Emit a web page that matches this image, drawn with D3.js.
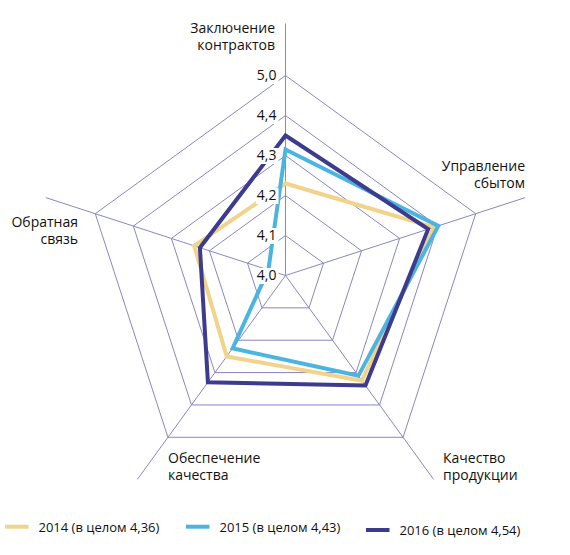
<!DOCTYPE html>
<html><head><meta charset="utf-8">
<script src="https://cdn.jsdelivr.net/npm/d3@7/dist/d3.min.js"></script>
<style>
html,body{margin:0;padding:0;background:#fff;}
text{font-family:"Open Sans",sans-serif;fill:#111;}
</style></head>
<body>
<svg id="chart" width="570" height="555"></svg>
<script>
const axes = [["Заключение","контрактов"],["Управление","сбытом"],["Качество","продукции"],["Обеспечение","качества"],["Обратная","связь"]];
const tickValues = [4.0, 4.1, 4.2, 4.3, 4.4, 5.0];
const tickLabels = ["4,0","4,1","4,2","4,3","4,4","5,0"];
const seriesNames = ["2014 (в целом 4,36)","2015 (в целом 4,43)","2016 (в целом 4,54)"];
const values2014 = [4.23, 4.39, 4.325, 4.25, 4.24];
const values2015 = [4.315, 4.41, 4.31, 4.225, 4.045];
const values2016 = [4.35, 4.375, 4.34, 4.33, 4.225];
const colors = ["#f2d38c","#4cb4e0","#3d3b8e"];

const series = [values2014, values2015, values2016];
const svg = d3.select("#chart");
const cx = 285.5, cy = 275.5;
const r = d3.scaleLinear().domain(tickValues).range([0,40,80,120,160,200]);
const angle = d3.scalePoint().domain(d3.range(axes.length + 1)).range([0, 2*Math.PI]);
const pt = (i, rad) => [cx + rad*Math.sin(angle(i % axes.length)), cy - rad*Math.cos(angle(i % axes.length))];
const gridColor = "#8a86c2";

const g = svg.append("g");
// rings
tickValues.slice(1).forEach(v => {
  const pts = d3.range(axes.length).map(i => pt(i, r(v)));
  g.append("polygon").attr("points", pts.map(p => p.join(",")).join(" "))
    .attr("fill","none").attr("stroke",gridColor).attr("stroke-width",1);
});
// axes
const axisLen = 252;
axes.forEach((a,i) => {
  const p = pt(i, axisLen);
  g.append("line").attr("x1",cx).attr("y1",cy).attr("x2",p[0]).attr("y2",p[1])
    .attr("stroke",gridColor).attr("stroke-width",1);
});
// series
const line = d3.line().curve(d3.curveLinearClosed);
series.forEach((vals, s) => {
  g.append("path").attr("d", line(vals.map((v,i) => pt(i, r(v)))))
    .attr("fill","none").attr("stroke",colors[s]).attr("stroke-width",4).attr("stroke-linejoin","miter");
});
// tick labels with white boxes
tickValues.forEach((v, k) => {
  const y = cy - r(v) + 4.5;
  const t = g.append("text").attr("x", 276.5).attr("y", y).attr("text-anchor","end")
    .attr("font-size",14).text(tickLabels[k]);
  const b = t.node().getBBox();
  g.insert("rect", () => t.node()).attr("x", b.x - 1).attr("y", y - 12).attr("width", b.width + 3).attr("height", 16).attr("fill","#fff");
});
// axis labels
const labelPos = [
  {x:275, y:33, anchor:"end"},
  {x:525, y:171, anchor:"end"},
  {x:443, y:463, anchor:"start"},
  {x:168, y:463, anchor:"start"},
  {x:78, y:227, anchor:"end"}
];
axes.forEach((a,i) => {
  const lp = labelPos[i];
  const t = g.append("text").attr("x",lp.x).attr("y",lp.y).attr("text-anchor",lp.anchor).attr("font-size",14);
  a.forEach((s,j) => t.append("tspan").attr("x",lp.x).attr("dy", j===0?0:16.7).text(s));
});
// legend
const legendPos = [{x:5, ly:526.7, ty:531.7},{x:186, ly:526.7, ty:531.7},{x:366, ly:530, ty:535}];
seriesNames.forEach((n, s) => {
  const lp = legendPos[s];
  g.append("line").attr("x1",lp.x).attr("x2",lp.x+23.5).attr("y1",lp.ly).attr("y2",lp.ly)
    .attr("stroke",colors[s]).attr("stroke-width",4);
  g.append("text").attr("x",lp.x+33.5).attr("y",lp.ty).attr("font-size",13).text(n);
});
</script>
</body></html>
